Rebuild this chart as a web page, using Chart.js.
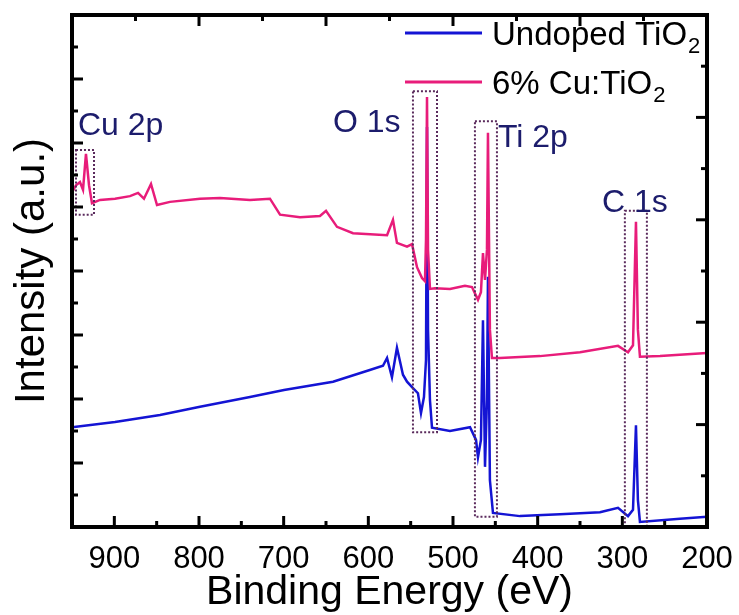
<!DOCTYPE html>
<html>
<head>
<meta charset="utf-8">
<script src="https://cdn.jsdelivr.net/npm/chart.js@4.4.1/dist/chart.umd.min.js"></script>
<style>
	html, body { margin: 0; padding: 0; background: #fff; }
	canvas { display: block; }
</style>
</head>
<body>
<canvas id="xps-survey" width="739" height="615"></canvas>
<script>

	// XPS survey spectra (binding energy in eV, intensity in a.u.)
	var energyCu = [950.0, 945.3, 940.6, 937.0, 933.5, 929.9, 926.4, 916.9, 899.2, 881.5, 872.0, 865.0, 856.7, 849.6, 834.3, 798.8, 775.2, 739.8, 716.2, 704.3, 680.7, 657.1, 650.0, 637.0, 618.1, 577.9, 570.9, 566.2, 554.3, 548.4, 542.5, 536.6, 533.1, 531.9, 530.7, 529.5, 527.2, 521.3, 503.6, 485.9, 477.6, 470.5, 467.0, 464.6, 462.2, 459.9, 458.7, 456.4, 454.0, 444.5, 397.3, 350.0, 305.1, 293.3, 287.4, 283.9, 281.6, 279.2, 255.5, 200.0];
	var intensityCu = [5.23, 5.34, 5.39, 5.27, 5.83, 5.34, 5.06, 5.11, 5.13, 5.17, 5.22, 5.13, 5.36, 5.03, 5.08, 5.13, 5.14, 5.11, 5.13, 4.88, 4.84, 4.86, 4.94, 4.69, 4.59, 4.56, 4.80, 4.44, 4.38, 4.42, 4.06, 3.89, 3.84, 4.48, 6.72, 4.33, 3.72, 3.73, 3.72, 3.77, 3.75, 3.55, 3.67, 4.28, 3.86, 4.33, 6.16, 3.08, 2.64, 2.64, 2.67, 2.73, 2.83, 2.73, 2.84, 4.77, 3.08, 2.66, 2.67, 2.72];

	var energyUndoped = [950.0, 899.2, 846.1, 798.8, 739.8, 699.6, 641.7, 599.2, 582.7, 577.9, 572.1, 566.2, 559.1, 554.3, 547.3, 541.4, 537.8, 534.3, 531.9, 530.7, 529.5, 527.2, 524.8, 503.6, 479.9, 472.8, 470.5, 467.0, 464.6, 462.2, 459.9, 458.7, 456.4, 452.8, 420.9, 373.6, 326.4, 305.1, 293.3, 287.4, 283.9, 281.6, 279.2, 232.0, 200.0];
	var intensityUndoped = [1.56, 1.64, 1.75, 1.88, 2.03, 2.14, 2.27, 2.45, 2.52, 2.64, 2.34, 2.80, 2.38, 2.27, 2.17, 2.09, 1.78, 2.03, 2.61, 6.25, 3.08, 1.98, 1.55, 1.50, 1.56, 1.36, 1.09, 1.36, 3.23, 0.94, 1.98, 3.91, 0.73, 0.22, 0.17, 0.20, 0.23, 0.30, 0.17, 0.27, 1.59, 0.42, 0.08, 0.13, 0.16];

	var seriesLabels = ['Undoped TiO₂', '6% Cu:TiO₂'];

	// peak windows: [high eV, low eV, top, bottom] and where each name sits
	var peakNames = ['Cu 2p', 'O 1s', 'Ti 2p', 'C 1s'];
	var peakWindows = [[945.3, 924.0, 5.89, 4.88], [547.3, 518.9, 6.81, 1.48], [474.1, 448.1, 6.34, 0.16], [297.0, 271.0, 4.94, 0]];
	var peakNameAt = [[942.9, 6.13], [641.7, 6.17], [446.9, 5.94], [324.0, 4.92]];

	var FONT = '"Liberation Sans", Arial, sans-serif';

	function points(xs, ys) {
		return xs.map(function (x, i) { return { x: x, y: ys[i] }; });
	}

	// pin an axis to a fixed size and drop the label overhang padding
	function fixSize(prop, size) {
		return function (scale) {
			scale[prop] = size;
			scale.paddingLeft = 0;
			scale.paddingRight = 0;
			scale.paddingTop = 0;
			scale.paddingBottom = 0;
		};
	}

	var decorations = {
		id: 'decorations',
		afterDatasetsDraw: function (chart) {
			var ctx = chart.ctx, a = chart.chartArea, s = chart.scales;
			ctx.save();

			// dotted windows round the peaks
			ctx.strokeStyle = '#5a2a5c';
			ctx.lineWidth = 2;
			ctx.setLineDash([2, 2]);
			peakWindows.forEach(function (w) {
				var x1 = s.x.getPixelForValue(w[0]), x2 = s.x.getPixelForValue(w[1]);
				var y1 = s.y.getPixelForValue(w[2]), y2 = s.y.getPixelForValue(w[3]);
				ctx.strokeRect(x1, y1, x2 - x1, y2 - y1);
			});
			ctx.setLineDash([]);

			// peak names
			ctx.fillStyle = '#1c1c6c';
			ctx.font = '32px ' + FONT;
			ctx.textAlign = 'left';
			ctx.textBaseline = 'alphabetic';
			peakNames.forEach(function (t, i) {
				ctx.fillText(t, s.x.getPixelForValue(peakNameAt[i][0]), s.y.getPixelForValue(peakNameAt[i][1]));
			});

			// frame
			ctx.strokeStyle = '#000';
			ctx.lineWidth = 4;
			ctx.strokeRect(a.left, a.top, a.right - a.left, a.bottom - a.top);

			// inward ticks, major and minor
			ctx.lineWidth = 3;
			function tick(x, y, dx, dy) {
				ctx.beginPath();
				ctx.moveTo(x, y);
				ctx.lineTo(x + dx, y + dy);
				ctx.stroke();
			}
			var e, v, px, py;
			for (e = 200; e < 950; e += 50) {
				px = s.x.getPixelForValue(e);
				tick(px, a.bottom, 0, -(e % 100 ? 6 : 11));
			}
			for (v = 0.5; v < 8; v += 0.5) {
				py = s.y.getPixelForValue(v);
				tick(a.left, py, v % 1 ? 6 : 11, 0);
			}
			for (v = 1; v < 10; v += 1) {
				py = s.y2.getPixelForValue(v);
				tick(a.right, py, -(v % 2 ? 6 : 11), 0);
			}
			for (v = 1; v < 10; v += 1) {
				px = s.x2.getPixelForValue(v);
				tick(px, a.top, 0, v % 2 ? 6 : 11);
			}

			// legend, top right inside the frame
			var rows = [chart.data.datasets[0], chart.data.datasets[1]];
			rows.forEach(function (ds, i) {
				var y = a.top + 18 + i * 49;
				ctx.strokeStyle = ds.borderColor;
				ctx.lineWidth = 3;
				tick(a.right - 302, y, 77, 0);
				var parts = ds.label.split('₂');
				var tx = a.right - 215;
				ctx.fillStyle = '#000';
				ctx.font = '33px ' + FONT;
				ctx.fillText(parts[0], tx, y + 12);
				tx += ctx.measureText(parts[0]).width + 1;
				ctx.font = '22px ' + FONT;
				ctx.fillText('2', tx, y + 20);
			});

			ctx.restore();
		}
	};

	new Chart(document.getElementById('xps-survey'), {
		type: 'line',
		data: {
			datasets: [
				{
					label: seriesLabels[0],
					data: points(energyUndoped, intensityUndoped),
					borderColor: '#1414d4',
					borderWidth: 2.5,
					pointRadius: 0,
					tension: 0,
					order: 2
				},
				{
					label: seriesLabels[1],
					data: points(energyCu, intensityCu),
					borderColor: '#e81c7a',
					borderWidth: 2.5,
					pointRadius: 0,
					tension: 0,
					order: 1
				}
			]
		},
		options: {
			responsive: false,
			animation: false,
			layout: { autoPadding: false, padding: { left: 7, right: 32, top: 15, bottom: 0 } },
			plugins: {
				legend: { display: false },
				tooltip: { enabled: false }
			},
			scales: {
				x: {
					type: 'linear',
					position: 'bottom',
					min: 200,
					max: 950,
					reverse: true,
					afterFit: fixSize('height', 88),
					grid: { display: false, drawTicks: false },
					border: { display: false },
					ticks: {
						stepSize: 100,
						includeBounds: false,
						autoSkip: false,
						maxRotation: 0,
						padding: 17,
						color: '#000',
						font: { family: FONT, size: 31, lineHeight: 1 }
					},
					title: {
						display: true,
						text: 'Binding Energy (eV)',
						color: '#000',
						padding: { top: 0, bottom: 2 },
						font: { family: FONT, size: 41, lineHeight: 1 }
					}
				},
				x2: {
					type: 'linear',
					position: 'top',
					min: 0,
					max: 10,
					afterFit: fixSize('height', 0),
					grid: { display: false, drawTicks: false },
					border: { display: false },
					ticks: { display: false }
				},
				y: {
					type: 'linear',
					position: 'left',
					min: 0,
					max: 8,
					afterFit: fixSize('width', 65),
					grid: { display: false, drawTicks: false },
					border: { display: false },
					ticks: { display: false },
					title: {
						display: true,
						text: 'Intensity (a.u.)',
						color: '#000',
						padding: { top: 0, bottom: 15 },
						font: { family: FONT, size: 42, lineHeight: 1.2 }
					}
				},
				y2: {
					type: 'linear',
					position: 'right',
					min: 0,
					max: 10,
					afterFit: fixSize('width', 0),
					grid: { display: false, drawTicks: false },
					border: { display: false },
					ticks: { display: false }
				}
			}
		},
		plugins: [decorations]
	});

</script>
</body>
</html>
